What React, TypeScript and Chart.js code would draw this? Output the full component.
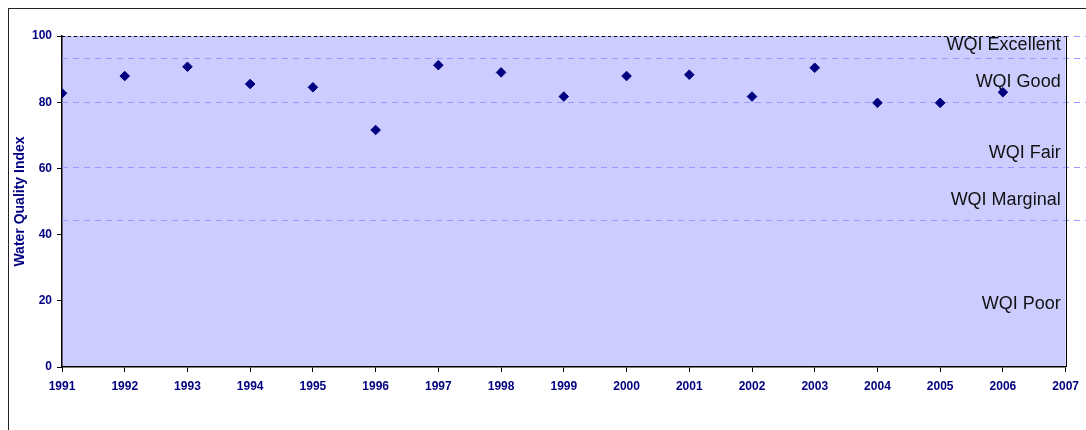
import React, { useEffect, useRef } from "react";
import { Chart, registerables } from "chart.js";

Chart.register(...registerables);

const years = [1991, 1992, 1993, 1994, 1995, 1996, 1997, 1998, 1999, 2000, 2001, 2002, 2003, 2004, 2005, 2006];
const wqiValues = [82.7, 87.9, 90.7, 85.5, 84.5, 71.6, 91.2, 89.0, 81.7, 87.9, 88.3, 81.7, 90.4, 79.8, 79.8, 83.0];
const thresholdValues = [100, 93.5, 80, 60.5, 44.3];
const categoryLabels = ["WQI Excellent", "WQI Good", "WQI Fair", "WQI Marginal", "WQI Poor"];
const categoryLabelValues = [97.3, 86.0, 64.7, 50.3, 19.0];

const NAVY = "#000080";

const bandPlugin = {
  id: "bands",
  beforeDraw(chart: any) {
    const { ctx, chartArea } = chart;
    ctx.save();
    ctx.fillStyle = "#CCCCFF";
    ctx.fillRect(chartArea.left, chartArea.top, chartArea.right - chartArea.left, chartArea.bottom - chartArea.top);
    ctx.restore();
  },
  beforeDatasetsDraw(chart: any) {
    const { ctx, chartArea, scales } = chart;
    const y = scales.y;
    ctx.save();
    ctx.strokeStyle = "#9999FF";
    ctx.lineWidth = 1;
    ctx.setLineDash([6, 5]);
    thresholdValues.forEach((v) => {
      const py = Math.round(y.getPixelForValue(v)) + 0.5;
      ctx.beginPath();
      ctx.moveTo(chartArea.left, py);
      ctx.lineTo(chart.width, py);
      ctx.stroke();
    });
    // top border dashed black
    const top = Math.round(y.getPixelForValue(100)) + 0.5;
    ctx.strokeStyle = "#000";
    ctx.setLineDash([3, 3]);
    ctx.beginPath();
    ctx.moveTo(chartArea.left, top);
    ctx.lineTo(chartArea.right, top);
    ctx.stroke();
    // right border
    ctx.setLineDash([]);
    const rx = Math.round(chartArea.right) + 0.5;
    ctx.beginPath();
    ctx.moveTo(rx, chartArea.top);
    ctx.lineTo(rx, chartArea.bottom);
    ctx.stroke();
    // labels
    ctx.fillStyle = "#111";
    ctx.font = "18px 'Liberation Sans', Arial, sans-serif";
    ctx.textAlign = "right";
    ctx.textBaseline = "middle";
    categoryLabels.forEach((t, i) => {
      ctx.fillText(t, chartArea.right - 5, y.getPixelForValue(categoryLabelValues[i]));
    });
    ctx.restore();
  },
};

export default function App() {
  const ref = useRef<HTMLCanvasElement | null>(null);
  useEffect(() => {
    if (!ref.current) return;
    const tickFont = { family: "'Liberation Sans', Arial, sans-serif", size: 12, weight: "bold" as const };
    const chart = new Chart(ref.current, {
      type: "scatter",
      data: {
        datasets: [
          {
            label: "WQI",
            data: years.map((yr, i) => ({ x: yr, y: wqiValues[i] })),
            pointStyle: "rectRot",
            pointRadius: 4.8,
            pointBorderWidth: 1,
            backgroundColor: NAVY,
            borderColor: NAVY,
            showLine: false,
          },
        ],
      },
      options: {
        responsive: false,
        animation: false,
        devicePixelRatio: 1,
        layout: { padding: { top: 27, right: 15, left: 0, bottom: 0 } },
        plugins: { legend: { display: false }, tooltip: { enabled: false } },
        scales: {
          x: {
            type: "linear",
            min: 1991,
            max: 2007,
            ticks: {
              stepSize: 1,
              color: NAVY,
              font: tickFont,
              padding: 7,
              maxRotation: 0,
              autoSkip: false,
              callback: (v: any) => String(v),
            },
            grid: { drawOnChartArea: false, drawTicks: true, tickLength: 5, color: "#000" },
            border: { display: true, color: "#000", width: 1.5 },
            afterFit: (s: any) => {
              s.height = 63;
            },
          },
          y: {
            min: 0,
            max: 100,
            ticks: { stepSize: 20, color: NAVY, font: tickFont, padding: 5 },
            grid: { drawOnChartArea: false, drawTicks: true, tickLength: 5, color: "#000" },
            border: { display: true, color: "#000", width: 1.5 },
            title: {
              display: true,
              text: "Water Quality Index",
              color: NAVY,
              font: { family: "'Liberation Sans', Arial, sans-serif", size: 14, weight: "bold" },
              padding: { top: 3, bottom: 0 },
            },
            afterFit: (s: any) => {
              s.width = 53;
            },
          },
        },
      },
      plugins: [bandPlugin],
    });
    return () => chart.destroy();
  }, []);
  return (
    <div
      style={{
        position: "absolute",
        left: 8,
        top: 8,
        width: 1078,
        height: 422,
        boxSizing: "border-box",
        borderTop: "1px solid #222",
        borderLeft: "1px solid #222",
        background: "#fff",
      }}
    >
      <canvas ref={ref} width={1077} height={421} style={{ display: "block", width: 1077, height: 421 }} />
    </div>
  );
}
